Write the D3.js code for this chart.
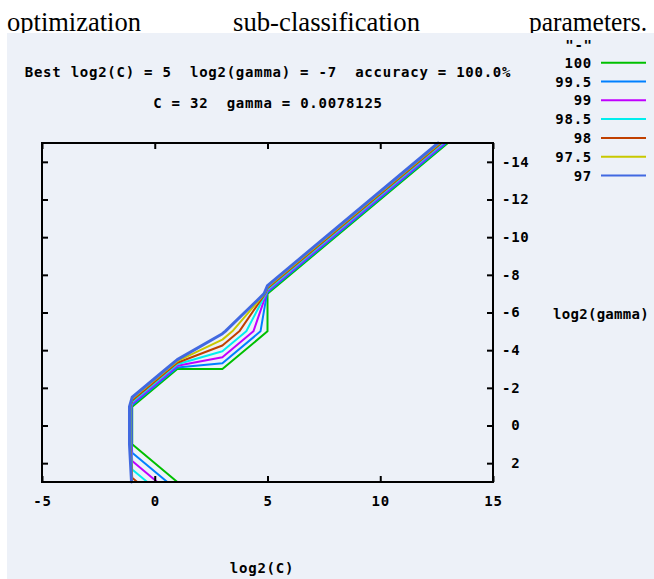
<!DOCTYPE html>
<html><head><meta charset="utf-8">
<script src="https://cdn.jsdelivr.net/npm/d3@7"></script>
<style>
body{margin:0;background:#fff}
svg{display:block}
.mono{font-family:"DejaVu Sans Mono",monospace;font-weight:bold;font-size:14px;letter-spacing:0.75px;fill:#000;white-space:pre}
</style>
</head><body>
<script>
// ---- data ----
const levels = ["100", "99.5", "99", "98.5", "98", "97.5", "97"];
const colors = ["#00c000", "#0080ff", "#c000ff", "#00eeee", "#c04000", "#c8c800", "#4169e1"];
const xTicks = [-5, 0, 5, 10, 15];
const yTicks = [-14, -12, -10, -8, -6, -4, -2, 0, 2];
const xDomain = [-5, 15];
const yDomain = [3, -15];

// contour lines, points [log2(C), log2(gamma)]
const c100  = [[1,3],[-1,1],[-1,-1],[1,-3],[3,-3],[5,-5],[5,-7],[13,-15]];
const c99_5 = [[0.556,3],[-1,1.444],[-1.02,1],[-1.02,-1],[-1,-1.083],[0.917,-3],[1,-3.083],[3,-3.31],[4.69,-5],[4.975,-7],[5,-7.071],[12.929,-15]];
const c99   = [[0.111,3],[-1,1.889],[-1.04,1],[-1.04,-1],[-1,-1.167],[0.833,-3],[1,-3.167],[3,-3.625],[4.375,-5],[4.95,-7],[5,-7.143],[12.857,-15]];
const c98_5 = [[-0.333,3],[-1,2.333],[-1.06,1],[-1.06,-1],[-1,-1.25],[0.75,-3],[1,-3.25],[3,-3.94],[4.06,-5],[4.925,-7],[5,-7.214],[12.786,-15]];
const c98   = [[-0.778,3],[-1,2.778],[-1.08,1],[-1.08,-1],[-1,-1.333],[0.667,-3],[1,-3.333],[3,-4.25],[3.75,-5],[4.9,-7],[5,-7.286],[12.714,-15]];
const c97_5 = [[-1.01,3],[-1.1,1],[-1.1,-1],[-1,-1.417],[0.583,-3],[1,-3.417],[3,-4.56],[3.44,-5],[4.875,-7],[5,-7.357],[12.643,-15]];
const c97   = [[-1.03,3],[-1.12,1],[-1.12,-1],[-1,-1.5],[0.5,-3],[1,-3.5],[3,-4.875],[3.125,-5],[4.85,-7],[5,-7.429],[12.571,-15]];
const contourLines = [c100, c99_5, c99, c98_5, c98, c97_5, c97];

const header = ["optimization", "sub-classification", "parameters."];
const bestText = "Best log2(C) = 5  log2(gamma) = -7  accuracy = 100.0%";
const paramText = "C = 32  gamma = 0.0078125";
const keyTitle = "\"-\"";

// ---- drawing ----
const W = 654, H = 579;
const svg = d3.select("body").append("svg").attr("width", W).attr("height", H);

// header text (serif, partially hidden by panel)
const hdr = svg.append("g").attr("font-family", "'Liberation Serif','Times New Roman',serif").attr("font-size", 28);
hdr.append("text").attr("x", 7).attr("y", 31).attr("textLength", 134).attr("lengthAdjust", "spacingAndGlyphs").text(header[0]);
hdr.append("text").attr("x", 233).attr("y", 31).attr("textLength", 187).attr("lengthAdjust", "spacingAndGlyphs").text(header[1]);
hdr.append("text").attr("x", 529).attr("y", 31).attr("textLength", 118).attr("lengthAdjust", "spacingAndGlyphs").text(header[2]);

// panel
svg.append("rect").attr("x", 7).attr("y", 33).attr("width", W - 7).attr("height", H - 33).attr("fill", "#edf1f8");

const x = d3.scaleLinear().domain(xDomain).range([42, 493]);
const y = d3.scaleLinear().domain(yDomain).range([482, 143]);

// labels at top
svg.append("text").attr("class", "mono").attr("x", 268).attr("y", 77).attr("text-anchor", "middle").text(bestText);
svg.append("text").attr("class", "mono").attr("x", 268).attr("y", 108).attr("text-anchor", "middle").text(paramText);

// contours
const line = d3.line().x(d => x(d[0])).y(d => y(d[1]));
const cg = svg.append("g").attr("fill", "none").attr("stroke-linejoin", "round").attr("stroke-linecap", "round");
contourLines.forEach((pts, i) => {
  cg.append("path").attr("d", line(pts)).attr("stroke", colors[i]).attr("stroke-width", i === 6 ? 3 : 2);
});

// axes (inward ticks)
const fmt = d => (d >= 0 ? " " : "") + String(d).replace("\u2212", "-");
const axB = svg.append("g").attr("transform", `translate(0,${y(yDomain[0])})`)
  .call(d3.axisBottom(x).tickValues(xTicks).tickSize(-6).tickPadding(14).tickFormat(d => String(d)));
const axT = svg.append("g").attr("transform", `translate(0,${y(yDomain[1])})`)
  .call(d3.axisTop(x).tickValues(xTicks).tickSize(-6).tickFormat(""));
const axL = svg.append("g").attr("transform", `translate(${x(xDomain[0])},0)`)
  .call(d3.axisLeft(y).tickValues(yTicks).tickSize(-6).tickFormat(""));
const axR = svg.append("g").attr("transform", `translate(${x(xDomain[1])},0)`)
  .call(d3.axisRight(y).tickValues(yTicks).tickSize(-6).tickPadding(9).tickFormat(fmt));
[axB, axT, axL, axR].forEach(a => {
  a.select(".domain").remove();
  a.selectAll(".tick line").attr("stroke", "#000").attr("stroke-width", 2);
  a.selectAll(".tick text").attr("class", "mono").attr("fill", "#000").style("font-size", null);
  a.attr("font-family", null).attr("font-size", null);
});
axR.selectAll(".tick text").attr("text-anchor", "start");

// plot border
svg.append("rect").attr("x", x(xDomain[0])).attr("y", y(yDomain[1]))
  .attr("width", x(xDomain[1]) - x(xDomain[0])).attr("height", y(yDomain[0]) - y(yDomain[1]))
  .attr("fill", "none").attr("stroke", "#000").attr("stroke-width", 2);

// axis titles
svg.append("text").attr("class", "mono").attr("x", 262).attr("y", 573).attr("text-anchor", "middle").text("log2(C)");
svg.append("text").attr("class", "mono").attr("x", 553).attr("y", 319).style("letter-spacing", "0.3px").text("log2(gamma)");

// legend
const key = svg.append("g");
key.append("text").attr("class", "mono").attr("x", 579).attr("y", 50).attr("text-anchor", "middle").text(keyTitle);
levels.forEach((lv, i) => {
  const ry = 62.7 + i * 18.8;
  key.append("text").attr("class", "mono").attr("x", 592).attr("y", ry + 5).attr("text-anchor", "end").text(lv);
  key.append("line").attr("x1", 601).attr("x2", 646).attr("y1", ry).attr("y2", ry)
    .attr("stroke", colors[i]).attr("stroke-width", 2);
});
</script>
</body></html>
